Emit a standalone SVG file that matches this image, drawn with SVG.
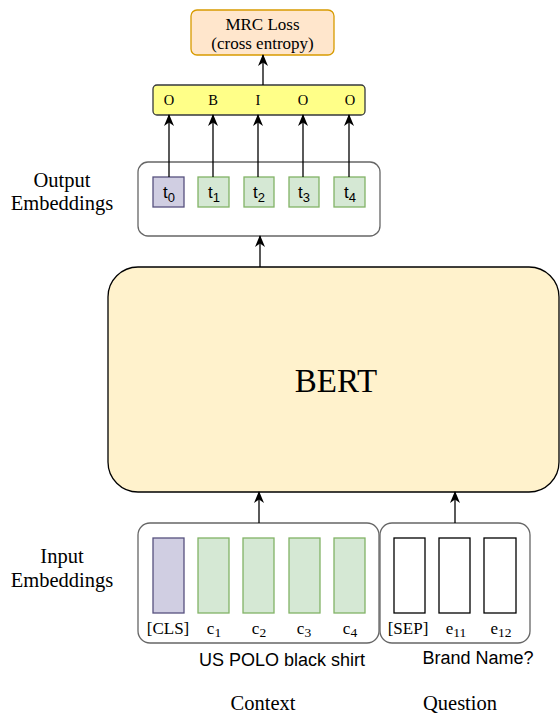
<svg xmlns="http://www.w3.org/2000/svg" width="560" height="715" viewBox="0 0 560 715">
<defs>
<marker id="arr" viewBox="0 0 12 10" refX="11" refY="5" markerWidth="12" markerHeight="10" markerUnits="userSpaceOnUse" orient="auto">
<path d="M0,0 L12,5 L0,10 L3.5,5 Z" fill="#000"/>
</marker>
<style>
.serif{font-family:"Liberation Serif","Times New Roman",serif;fill:#000}
.sans{font-family:"Liberation Sans",Arial,sans-serif;fill:#000}
.cont{fill:#fff;stroke:#666;stroke-width:1.3}
.purple{fill:#d0cee2;stroke:#56517e;stroke-width:1.3}
.green{fill:#d5e8d4;stroke:#82b366;stroke-width:1.3}
.white{fill:#fff;stroke:#000;stroke-width:1.3}
.conn{stroke:#000;stroke-width:1.3;fill:none;marker-end:url(#arr)}
</style>
</defs>
<rect width="560" height="715" fill="#fff"/>

<g id="mrc-loss">
<rect x="191" y="10" width="143" height="45" rx="6" fill="#ffe6cc" stroke="#d79b00" stroke-width="1.3"/>
<text class="serif" x="262.5" y="30" font-size="17" text-anchor="middle">MRC Loss</text>
<text class="serif" x="262.5" y="49" font-size="17" text-anchor="middle">(cross entropy)</text>
</g>

<g id="tags">
<rect x="153" y="85" width="212" height="30" rx="4" fill="#ffff88" stroke="#36393d" stroke-width="1.3"/>
<g class="serif" font-size="14.5" text-anchor="middle">
<text x="169" y="105">O</text>
<text x="213" y="105">B</text>
<text x="258" y="105">I</text>
<text x="303" y="105">O</text>
<text x="350" y="105">O</text>
</g>
</g>

<g id="output-embeddings">
<rect class="cont" x="138" y="162" width="242" height="74" rx="10"/>
<rect class="purple" x="153" y="177" width="31" height="30"/>
<rect class="green" x="198" y="177" width="31" height="30"/>
<rect class="green" x="244" y="177" width="30" height="30"/>
<rect class="green" x="289" y="177" width="30" height="30"/>
<rect class="green" x="334" y="177" width="31" height="30"/>
<g class="sans" font-size="17" text-anchor="middle">
<text x="169" y="198">t<tspan font-size="13" dy="4">0</tspan></text>
<text x="214" y="198">t<tspan font-size="13" dy="4">1</tspan></text>
<text x="259" y="198">t<tspan font-size="13" dy="4">2</tspan></text>
<text x="304" y="198">t<tspan font-size="13" dy="4">3</tspan></text>
<text x="350" y="198">t<tspan font-size="13" dy="4">4</tspan></text>
</g>
</g>

<g id="output-label">
<text class="serif" x="62" y="187" font-size="20.5" text-anchor="middle">Output</text>
<text class="serif" x="62" y="210" font-size="20.5" text-anchor="middle">Embeddings</text>
</g>

<g id="bert">
<rect x="108" y="267" width="451" height="225" rx="30" fill="#fff2cc" stroke="#000" stroke-width="1.3"/>
<text class="serif" x="336" y="392" font-size="33" text-anchor="middle">BERT</text>
</g>

<g id="input-context">
<rect class="cont" x="138" y="523" width="241" height="120" rx="12"/>
<rect class="purple" x="153" y="538" width="31" height="75"/>
<rect class="green" x="198" y="538" width="31" height="75"/>
<rect class="green" x="243" y="538" width="31" height="75"/>
<rect class="green" x="289" y="538" width="31" height="75"/>
<rect class="green" x="334" y="538" width="31" height="75"/>
<g class="serif" font-size="17" text-anchor="middle">
<text x="168" y="634">[CLS]</text>
<text x="214" y="634">c<tspan font-size="13.5" dy="3">1</tspan></text>
<text x="259" y="634">c<tspan font-size="13.5" dy="3">2</tspan></text>
<text x="304" y="634">c<tspan font-size="13.5" dy="3">3</tspan></text>
<text x="350" y="634">c<tspan font-size="13.5" dy="3">4</tspan></text>
</g>
</g>

<g id="input-question">
<rect class="cont" x="380" y="523" width="150" height="120" rx="12"/>
<rect class="white" x="394" y="538" width="31" height="75"/>
<rect class="white" x="439" y="538" width="31" height="75"/>
<rect class="white" x="484" y="538" width="32" height="75"/>
<g class="serif" font-size="17" text-anchor="middle">
<text x="408" y="634">[SEP]</text>
<text x="456" y="634">e<tspan font-size="13.5" dy="3">11</tspan></text>
<text x="501" y="634">e<tspan font-size="13.5" dy="3">12</tspan></text>
</g>
</g>

<g id="input-label">
<text class="serif" x="62" y="563" font-size="20.5" text-anchor="middle">Input</text>
<text class="serif" x="62" y="587" font-size="20.5" text-anchor="middle">Embeddings</text>
</g>

<g id="captions">
<text class="sans" x="282" y="666" font-size="18" text-anchor="middle">US POLO black shirt</text>
<text class="sans" x="478" y="664" font-size="18" text-anchor="middle">Brand Name?</text>
<text class="serif" x="263" y="710" font-size="20.5" text-anchor="middle">Context</text>
<text class="serif" x="460" y="710" font-size="20.5" text-anchor="middle">Question</text>
</g>

<g id="connectors">
<line class="conn" x1="263" y1="85" x2="263" y2="55"/>
<line class="conn" x1="169" y1="177" x2="169" y2="115"/>
<line class="conn" x1="213" y1="177" x2="213" y2="115"/>
<line class="conn" x1="258" y1="177" x2="258" y2="115"/>
<line class="conn" x1="303" y1="177" x2="303" y2="115"/>
<line class="conn" x1="349" y1="177" x2="349" y2="115"/>
<line class="conn" x1="260" y1="267" x2="260" y2="236"/>
<line class="conn" x1="259" y1="523" x2="259" y2="492"/>
<line class="conn" x1="455" y1="523" x2="455" y2="492"/>
</g>
</svg>
